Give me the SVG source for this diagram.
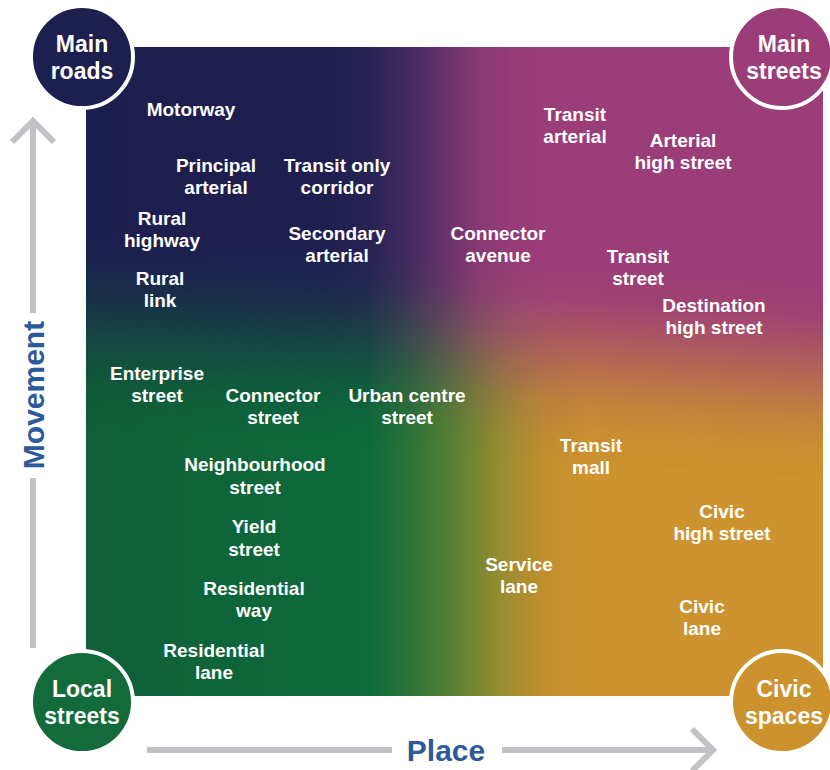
<svg xmlns="http://www.w3.org/2000/svg" width="830" height="770" viewBox="0 0 830 770">
  <style>
    .lbl { font-family: "Liberation Sans", Arial, sans-serif; font-weight: bold; font-size: 19px; fill: #ffffff; text-anchor: middle; }
    .hub { font-family: "Liberation Sans", Arial, sans-serif; font-weight: bold; font-size: 23px; fill: #ffffff; text-anchor: middle; }
    .axis { fill: none; stroke: #c2c2c6; stroke-width: 6; }
    .axtxt { font-family: "Liberation Sans", Arial, sans-serif; font-weight: bold; font-size: 30px; fill: #2d5a9a; text-anchor: middle; }
    .ring { stroke: #ffffff; stroke-width: 4; }
  </style>
  <defs>
    <linearGradient id="topGrad" gradientUnits="userSpaceOnUse" x1="86" y1="0" x2="823" y2="0">
      <stop offset="0" stop-color="#1c1e4e"/>
      <stop offset="0.33" stop-color="#1e1f50"/>
      <stop offset="0.38" stop-color="#262253"/>
      <stop offset="0.43" stop-color="#3e2a5d"/>
      <stop offset="0.48" stop-color="#62316a"/>
      <stop offset="0.53" stop-color="#863873"/>
      <stop offset="0.58" stop-color="#973c78"/>
      <stop offset="0.63" stop-color="#9b3d79"/>
      <stop offset="1" stop-color="#9b3d78"/>
    </linearGradient>
    <linearGradient id="botGrad" gradientUnits="userSpaceOnUse" x1="86" y1="0" x2="823" y2="0">
      <stop offset="0" stop-color="#105f38"/>
      <stop offset="0.38" stop-color="#0d6a3a"/>
      <stop offset="0.44" stop-color="#2a7437"/>
      <stop offset="0.50" stop-color="#5a8234"/>
      <stop offset="0.56" stop-color="#958c31"/>
      <stop offset="0.62" stop-color="#c08f2e"/>
      <stop offset="0.68" stop-color="#cd932e"/>
      <stop offset="1" stop-color="#cd932e"/>
    </linearGradient>
    <linearGradient id="vGrad" gradientUnits="userSpaceOnUse" x1="465" y1="207" x2="445" y2="487">
      <stop offset="0" stop-color="#ffffff"/>
      <stop offset="0.18" stop-color="#ffffff"/>
      <stop offset="0.3" stop-color="#ececec"/>
      <stop offset="0.42" stop-color="#b4b4b4"/>
      <stop offset="0.54" stop-color="#707070"/>
      <stop offset="0.66" stop-color="#303030"/>
      <stop offset="0.78" stop-color="#0c0c0c"/>
      <stop offset="0.88" stop-color="#000000"/>
      <stop offset="1" stop-color="#000000"/>
    </linearGradient>
    <mask id="topMask" maskUnits="userSpaceOnUse" x="0" y="0" width="830" height="770">
      <rect x="0" y="0" width="830" height="770" fill="url(#vGrad)"/>
    </mask>
  </defs>

  <rect width="830" height="770" fill="#ffffff"/>

  <g id="field">
    <rect x="86" y="47" width="737" height="649" fill="url(#botGrad)"/>
    <rect x="86" y="47" width="737" height="649" fill="url(#topGrad)" mask="url(#topMask)"/>
  </g>

  <g id="connectors">
    <g id="movement-axis">
      <line class="axis" x1="33" y1="122" x2="33" y2="313"/>
      <line class="axis" x1="33" y1="478" x2="33" y2="648"/>
      <polyline class="axis" points="12,142 33,121 54,142"/>
      <text class="axtxt" transform="translate(44,395) rotate(-90)">Movement</text>
    </g>
    <g id="place-axis">
      <line class="axis" x1="147" y1="750" x2="392" y2="750"/>
      <line class="axis" x1="502" y1="750" x2="712" y2="750"/>
      <polyline class="axis" points="692,729 713,750 692,771"/>
      <text class="axtxt" x="446" y="761">Place</text>
    </g>
  </g>

  <g id="main-roads">
    <circle class="ring" cx="82" cy="57" r="51" fill="#1d1f4e"/>
    <text class="hub" x="82" y="52">Main<tspan x="82" dy="27">roads</tspan></text>
  </g>
  <g id="main-streets">
    <circle class="ring" cx="782" cy="57" r="51" fill="#9b3d78"/>
    <text class="hub" x="784" y="52">Main<tspan x="784" dy="27">streets</tspan></text>
  </g>
  <g id="local-streets">
    <circle class="ring" cx="82" cy="702" r="51" fill="#136a3a"/>
    <text class="hub" x="82" y="697">Local<tspan x="82" dy="27">streets</tspan></text>
  </g>
  <g id="civic-spaces">
    <circle class="ring" cx="782" cy="702" r="51" fill="#cc922e"/>
    <text class="hub" x="784" y="697">Civic<tspan x="784" dy="27">spaces</tspan></text>
  </g>

  <g id="motorway"><text class="lbl" x="191" y="116">Motorway</text></g>
  <g id="principal-arterial"><text class="lbl" x="216" y="172">Principal<tspan x="216" dy="22">arterial</tspan></text></g>
  <g id="transit-only-corridor"><text class="lbl" x="337" y="172">Transit only<tspan x="337" dy="22">corridor</tspan></text></g>
  <g id="rural-highway"><text class="lbl" x="162" y="225">Rural<tspan x="162" dy="22">highway</tspan></text></g>
  <g id="secondary-arterial"><text class="lbl" x="337" y="240">Secondary<tspan x="337" dy="22">arterial</tspan></text></g>
  <g id="rural-link"><text class="lbl" x="160" y="285">Rural<tspan x="160" dy="22">link</tspan></text></g>
  <g id="connector-avenue"><text class="lbl" x="498" y="240">Connector<tspan x="498" dy="22">avenue</tspan></text></g>
  <g id="transit-arterial"><text class="lbl" x="575" y="121">Transit<tspan x="575" dy="22">arterial</tspan></text></g>
  <g id="arterial-high-street"><text class="lbl" x="683" y="147">Arterial<tspan x="683" dy="22">high street</tspan></text></g>
  <g id="transit-street"><text class="lbl" x="638" y="263">Transit<tspan x="638" dy="22">street</tspan></text></g>
  <g id="destination-high-street"><text class="lbl" x="714" y="312">Destination<tspan x="714" dy="22">high street</tspan></text></g>
  <g id="enterprise-street"><text class="lbl" x="157" y="380">Enterprise<tspan x="157" dy="22">street</tspan></text></g>
  <g id="connector-street"><text class="lbl" x="273" y="402">Connector<tspan x="273" dy="22">street</tspan></text></g>
  <g id="urban-centre-street"><text class="lbl" x="407" y="402">Urban centre<tspan x="407" dy="22">street</tspan></text></g>
  <g id="transit-mall"><text class="lbl" x="591" y="452">Transit<tspan x="591" dy="22">mall</tspan></text></g>
  <g id="neighbourhood-street"><text class="lbl" x="255" y="471">Neighbourhood<tspan x="255" dy="23">street</tspan></text></g>
  <g id="yield-street"><text class="lbl" x="254" y="533">Yield<tspan x="254" dy="23">street</tspan></text></g>
  <g id="civic-high-street"><text class="lbl" x="722" y="518">Civic<tspan x="722" dy="22">high street</tspan></text></g>
  <g id="service-lane"><text class="lbl" x="519" y="571">Service<tspan x="519" dy="22">lane</tspan></text></g>
  <g id="residential-way"><text class="lbl" x="254" y="595">Residential<tspan x="254" dy="22">way</tspan></text></g>
  <g id="civic-lane"><text class="lbl" x="702" y="613">Civic<tspan x="702" dy="22">lane</tspan></text></g>
  <g id="residential-lane"><text class="lbl" x="214" y="657">Residential<tspan x="214" dy="22">lane</tspan></text></g>
</svg>
